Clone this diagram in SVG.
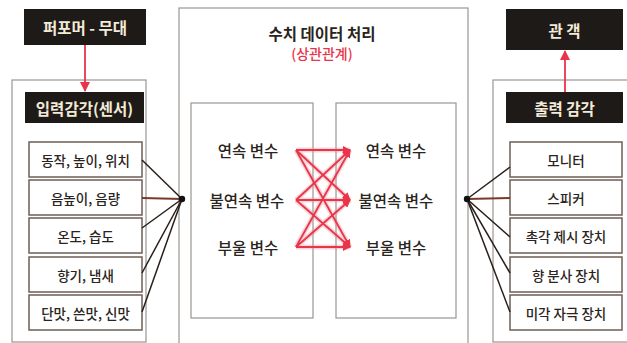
<svg xmlns="http://www.w3.org/2000/svg" width="627" height="343" viewBox="0 0 627 343">
<defs>
<marker id="ar" viewBox="0 0 10 10" refX="9" refY="5" markerWidth="8" markerHeight="8" orient="auto" markerUnits="userSpaceOnUse">
<path d="M0,0 L10,5 L0,10 z" fill="#e8354a"/>
</marker>
<marker id="ar2" viewBox="0 0 10 10" refX="9" refY="5" markerWidth="10" markerHeight="10" orient="auto" markerUnits="userSpaceOnUse">
<path d="M0,0 L10,5 L0,10 z" fill="#e8354a"/>
</marker>
<style>
text{font-family:"Noto Sans CJK KR","Noto Sans",sans-serif;text-anchor:middle;dominant-baseline:central}
.panel{fill:#fff;stroke:#9a9590;stroke-width:1.2}
.dark{fill:#1e1a17}
.dt{fill:#f3ead8;font-size:15.5px;font-weight:700}
.item{fill:#fff;stroke:#6e5f55;stroke-width:1.5}
.it{fill:#2a2420;font-size:13.5px;font-weight:500}
.var{fill:#2a2420;font-size:15.5px;font-weight:500}
.conn{stroke:#2a1f1a;stroke-width:1.5;fill:none}
.connb{stroke:#7a3a28;stroke-width:1.8;fill:none}
.rl{stroke:#e8354a;stroke-width:1.8;fill:none}
.rg{stroke:#f08a96;stroke-width:5;opacity:0.35;fill:none}
</style>
</defs>
<rect width="627" height="343" fill="#fff"/>

<g id="performer">
<rect class="dark" x="24" y="9" width="122" height="36"/>
<text class="dt" x="85" y="27">퍼포머 - 무대</text>
</g>

<g id="input-panel">
<rect class="panel" x="12" y="80" width="134" height="262"/>
<rect class="dark" x="25" y="92" width="119" height="31"/>
<text class="dt" x="84.5" y="107.5">입력감각(센서)</text>
</g>
<g id="in1"><rect class="item" x="29" y="142" width="113" height="35"/><text class="it" x="85.5" y="159.5">동작, 높이, 위치</text></g>
<g id="in2"><rect class="item" x="29" y="180" width="113" height="35"/><text class="it" x="85.5" y="197.5">음높이, 음량</text></g>
<g id="in3"><rect class="item" x="29" y="218" width="113" height="35"/><text class="it" x="85.5" y="235.5">온도, 습도</text></g>
<g id="in4"><rect class="item" x="29" y="257" width="113" height="35"/><text class="it" x="85.5" y="274.5">향기, 냄새</text></g>
<g id="in5"><rect class="item" x="29" y="295" width="113" height="35"/><text class="it" x="85.5" y="312.5">단맛, 쓴맛, 신맛</text></g>

<g id="processing">
<rect class="panel" x="179" y="8" width="289" height="336"/>
<text x="322" y="33" style="fill:#2a2420;font-size:15.5px;font-weight:700">수치 데이터 처리</text>
<text x="322" y="53" style="fill:#e8354a;font-size:14px;font-weight:500">(상관관계)</text>
</g>
<g id="vars-in">
<rect class="panel" x="191" y="103" width="122" height="215"/>
<text class="var" x="248" y="150">연속 변수</text>
<text class="var" x="247" y="200">불연속 변수</text>
<text class="var" x="248" y="247">부울 변수</text>
</g>
<g id="vars-out">
<rect class="panel" x="336" y="103" width="120" height="215"/>
<text class="var" x="396" y="150">연속 변수</text>
<text class="var" x="396" y="200">불연속 변수</text>
<text class="var" x="396" y="247">부울 변수</text>
</g>

<g id="audience">
<rect class="dark" x="506" y="9" width="117" height="41"/>
<text class="dt" x="564.5" y="29.5">관 객</text>
</g>
<g id="output-panel">
<rect class="panel" x="493" y="80" width="140" height="262"/>
<rect class="dark" x="506" y="92" width="117" height="31"/>
<text class="dt" x="564.5" y="107.5">출력 감각</text>
</g>
<g id="out1"><rect class="item" x="510" y="142" width="112" height="35"/><text class="it" x="566" y="159.5">모니터</text></g>
<g id="out2"><rect class="item" x="510" y="180" width="112" height="35"/><text class="it" x="566" y="197.5">스피커</text></g>
<g id="out3"><rect class="item" x="510" y="218" width="112" height="35"/><text class="it" x="566" y="235.5">촉각 제시 장치</text></g>
<g id="out4"><rect class="item" x="510" y="257" width="112" height="35"/><text class="it" x="566" y="274.5">향 분사 장치</text></g>
<g id="out5"><rect class="item" x="510" y="295" width="112" height="35"/><text class="it" x="566" y="312.5">미각 자극 장치</text></g>

<g id="connectors">
<line x1="85" y1="45" x2="85" y2="91" class="rl" stroke-width="3" marker-end="url(#ar2)"/>
<line x1="565" y1="92" x2="565" y2="51" class="rl" stroke-width="3" marker-end="url(#ar2)"/>

<line x1="142" y1="160" x2="182" y2="199" class="conn"/>
<line x1="142" y1="198" x2="182" y2="199" class="connb"/>
<line x1="142" y1="228" x2="182" y2="199" class="conn"/>
<line x1="142" y1="273" x2="182" y2="199" class="conn"/>
<line x1="142" y1="312" x2="182" y2="199" class="conn"/>
<circle cx="182" cy="199" r="3.2" fill="#111"/>

<line x1="510" y1="167" x2="467" y2="199" class="conn"/>
<line x1="510" y1="198" x2="467" y2="199" class="connb"/>
<line x1="510" y1="237" x2="467" y2="199" class="conn"/>
<line x1="510" y1="273" x2="467" y2="199" class="conn"/>
<line x1="510" y1="312" x2="467" y2="199" class="conn"/>
<circle cx="467" cy="199" r="3.2" fill="#111"/>

<g>
<path class="rg" d="M296,150 L350,150 M296,150 L350,200 M296,150 L350,247 M296,200 L350,150 M296,200 L350,200 M296,200 L350,247 M296,247 L350,150 M296,247 L350,200 M296,247 L350,247"/>
<line class="rl" x1="296" y1="150" x2="350" y2="150" marker-end="url(#ar)"/>
<line class="rl" x1="296" y1="150" x2="350" y2="200" marker-end="url(#ar)"/>
<line class="rl" x1="296" y1="150" x2="350" y2="247" marker-end="url(#ar)"/>
<line class="rl" x1="296" y1="200" x2="350" y2="150" marker-end="url(#ar)"/>
<line class="rl" x1="296" y1="200" x2="350" y2="200" marker-end="url(#ar)"/>
<line class="rl" x1="296" y1="200" x2="350" y2="247" marker-end="url(#ar)"/>
<line class="rl" x1="296" y1="247" x2="350" y2="150" marker-end="url(#ar)"/>
<line class="rl" x1="296" y1="247" x2="350" y2="200" marker-end="url(#ar)"/>
<line class="rl" x1="296" y1="247" x2="350" y2="247" marker-end="url(#ar)"/>
</g>
</g>
</svg>
